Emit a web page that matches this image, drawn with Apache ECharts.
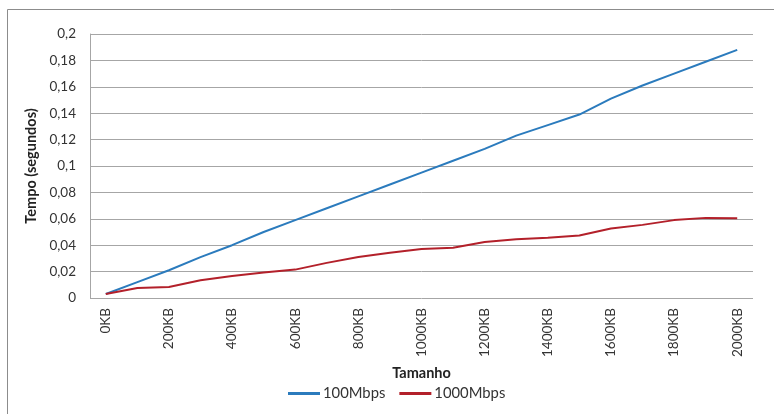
<!DOCTYPE html>
<html>
<head>
<meta charset="utf-8">
<style>html,body{margin:0;padding:0;background:#fff;}#c{width:774px;height:414px;}</style>
<script src="https://cdn.jsdelivr.net/npm/echarts@6/dist/echarts.min.js"></script>
</head>
<body>
<div id="c"></div>
<script>
var categories = ['0KB','100KB','200KB','300KB','400KB','500KB','600KB','700KB','800KB','900KB','1000KB','1100KB','1200KB','1300KB','1400KB','1500KB','1600KB','1700KB','1800KB','1900KB','2000KB'];
var series100 = [0.003,0.012,0.021,0.031,0.040,0.050,0.059,0.068,0.077,0.086,0.095,0.104,0.113,0.123,0.131,0.139,0.151,0.161,0.170,0.179,0.188];
var series1000 = [0.003,0.0076,0.0084,0.0134,0.0167,0.0193,0.0215,0.0266,0.0311,0.0342,0.0372,0.038,0.0425,0.0445,0.0456,0.0474,0.0527,0.0554,0.059,0.0607,0.0605];
var seriesNames = ['100Mbps','1000Mbps'];

var FONT = 'Lato';
var chart = echarts.init(document.getElementById('c'));
chart.setOption({
  animation: false,
  backgroundColor: '#fff',
  graphic: [
    {type:'line', shape:{x1:7.5,y1:9.5,x2:774,y2:9.5}, style:{stroke:'#8c8c8c',lineWidth:1}},
    {type:'line', shape:{x1:7.5,y1:9.5,x2:7.5,y2:414}, style:{stroke:'#8c8c8c',lineWidth:1}}
  ],
  grid: {left: 90, right: 21, top: 34, bottom: 116, containLabel: false},
  legend: {
    bottom: 8, left: 283,
    itemWidth: 32, itemHeight: 3, itemGap: 14,
    icon: 'rect',
    textStyle: {fontFamily: FONT, fontSize: 14.8, color: '#333', padding:[0,0,0,-2]},
    data: seriesNames
  },
  xAxis: {
    type: 'category',
    data: categories,
    boundaryGap: true,
    name: 'Tamanho',
    nameLocation: 'middle',
    nameGap: 68,
    nameTextStyle: {fontFamily: FONT, fontWeight: 'bold', fontSize: 14.5, color: '#222'},
    axisLine: {show: false},
    axisTick: {show: false},
    axisLabel: {interval: 1, rotate: 90, fontFamily: FONT, fontSize: 13.5, color: '#333', margin: 10}
  },
  yAxis: {
    type: 'value',
    min: 0, max: 0.2, interval: 0.02,
    name: 'Tempo (segundos)',
    nameLocation: 'middle',
    nameGap: 48,
    nameTextStyle: {fontFamily: FONT, fontWeight: 'bold', fontSize: 14.5, color: '#222'},
    axisLine: {show: true, lineStyle: {color: '#a6a6a6'}},
    axisTick: {show: false},
    axisLabel: {fontFamily: FONT, fontSize: 13.5, color: '#333', margin: 14,
      formatter: function(v){ return String(Math.round(v*100)/100).replace('.', ','); }},
    splitLine: {show: true, lineStyle: {color: '#a6a6a6', width: 1}}
  },
  series: [
    {name: seriesNames[0], type: 'line', data: series100, symbol: 'none', lineStyle: {color: '#2b7bbd', width: 2}, itemStyle: {color: '#2b7bbd'}},
    {name: seriesNames[1], type: 'line', data: series1000, symbol: 'none', lineStyle: {color: '#b3202a', width: 2}, itemStyle: {color: '#b3202a'}}
  ]
});
</script>
</body>
</html>
